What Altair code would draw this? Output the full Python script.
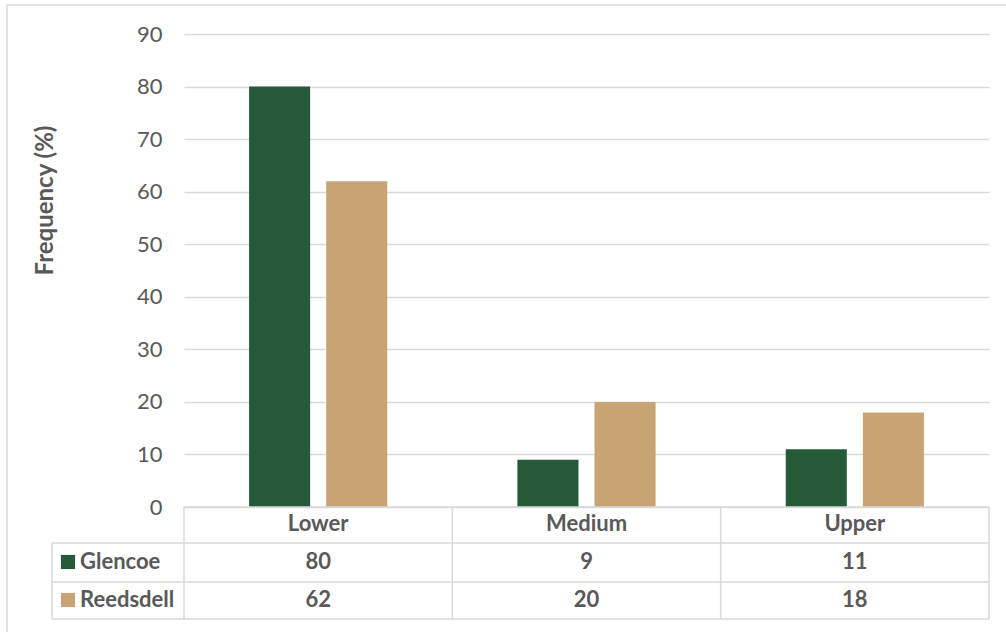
import altair as alt
import pandas as pd

categories = ["Lower", "Medium", "Upper"]
series = ["Glencoe", "Reedsdell"]
glencoe = [80, 9, 11]
reedsdell = [62, 20, 18]
y_ticks = [0, 10, 20, 30, 40, 50, 60, 70, 80, 90]

colors = ["#245a37", "#c8a374"]
grid = "#d9d9d9"
txt = "#595959"
FONT = "Lato"
FS = 22

rows = []
for i, c in enumerate(categories):
    rows.append({"category": c, "series": series[0], "value": glencoe[i]})
    rows.append({"category": c, "series": series[1], "value": reedsdell[i]})
df = pd.DataFrame(rows)
cat_df = pd.DataFrame({"category": categories})
ser_df = pd.DataFrame({"series": series})
one = pd.DataFrame({"k": [0]})

W, H = 805, 473
ROW_Y = [528, 566]
HEADER_Y = 490

x_enc = alt.X("category:N", sort=categories,
              scale=alt.Scale(paddingInner=0, paddingOuter=0), axis=None)
color_scale = alt.Scale(domain=series, range=colors)
row_scale = alt.Scale(domain=series, range=ROW_Y, padding=0)

border = alt.Chart(one).mark_rect(filled=False, stroke=grid, strokeWidth=1.5).encode(
    x=alt.value(-177), x2=alt.value(900), y=alt.value(-29), y2=alt.value(700))

bars = alt.Chart(df).mark_bar().encode(
    x=x_enc,
    xOffset=alt.XOffset("series:N", sort=series,
                        scale=alt.Scale(paddingInner=0.208, paddingOuter=0.844)),
    y=alt.Y("value:Q", scale=alt.Scale(domain=[0, 90], nice=False),
            axis=alt.Axis(values=y_ticks, grid=True, gridColor=grid, gridWidth=1.5,
                          domain=False, ticks=False, labelPadding=22,
                          labelFontSize=FS, labelColor=txt, labelFont=FONT,
                          title="Frequency (%)", titleFont=FONT, titleFontSize=24,
                          titleFontWeight="bold", titleColor=txt, titleAngle=270,
                          titleX=-139, titleY=166, titleBaseline="middle",
                          titleAlign="center")),
    color=alt.Color("series:N", scale=color_scale, legend=None),
)

header = alt.Chart(cat_df).mark_text(font=FONT, fontSize=FS, fontWeight="bold",
                                     color=txt, baseline="middle").encode(
    x=alt.X("category:N", sort=categories,
            scale=alt.Scale(paddingInner=0, paddingOuter=0), axis=None,
            bandPosition=0.5),
    y=alt.value(HEADER_Y), text="category:N")

values = alt.Chart(df).mark_text(font=FONT, fontSize=FS, fontWeight="bold",
                                 color=txt, baseline="middle").encode(
    x=alt.X("category:N", sort=categories,
            scale=alt.Scale(paddingInner=0, paddingOuter=0), axis=None,
            bandPosition=0.5),
    y=alt.Y("series:N", scale=row_scale, axis=None),
    text="value:Q")

labels = alt.Chart(ser_df).mark_text(font=FONT, fontSize=FS, fontWeight="bold",
                                     color=txt, baseline="middle", align="left").encode(
    x=alt.value(-104),
    y=alt.Y("series:N", scale=row_scale, axis=None),
    text="series:N")

squares = alt.Chart(ser_df).mark_square(size=200, opacity=1).encode(
    x=alt.value(-116),
    y=alt.Y("series:N", scale=row_scale, axis=None),
    color=alt.Color("series:N", scale=color_scale, legend=None))

def hrule(y, x1, x2):
    return alt.Chart(one).mark_rule(color=grid, strokeWidth=1.5).encode(
        x=alt.value(x1), x2=alt.value(x2), y=alt.value(y))

def vrule_val(x, y1, y2):
    return alt.Chart(one).mark_rule(color=grid, strokeWidth=1.5).encode(
        x=alt.value(x), y=alt.value(y1), y2=alt.value(y2))

vlines = alt.Chart(cat_df).mark_rule(color=grid, strokeWidth=1.5).encode(
    x=alt.X("category:N", sort=categories,
            scale=alt.Scale(paddingInner=0, paddingOuter=0), axis=None,
            bandPosition=0),
    y=alt.value(H), y2=alt.value(585))

table_lines = [
    hrule(H, 0, W), hrule(509, -132, W), hrule(548, -132, W), hrule(585, -132, W),
    vrule_val(-132, 509, 585), vrule_val(W, H, 585), vlines,
]

chart = alt.layer(border, bars, *table_lines, header, values, labels, squares).resolve_scale(
    y="independent"
).properties(
    width=W, height=H,
    autosize=alt.AutoSizeParams(type="none"),
    padding={"left": 184, "top": 34, "right": 17, "bottom": 125},
).configure_view(stroke=None)

chart.save("out.html", embed_options={"renderer": "svg", "actions": False})
